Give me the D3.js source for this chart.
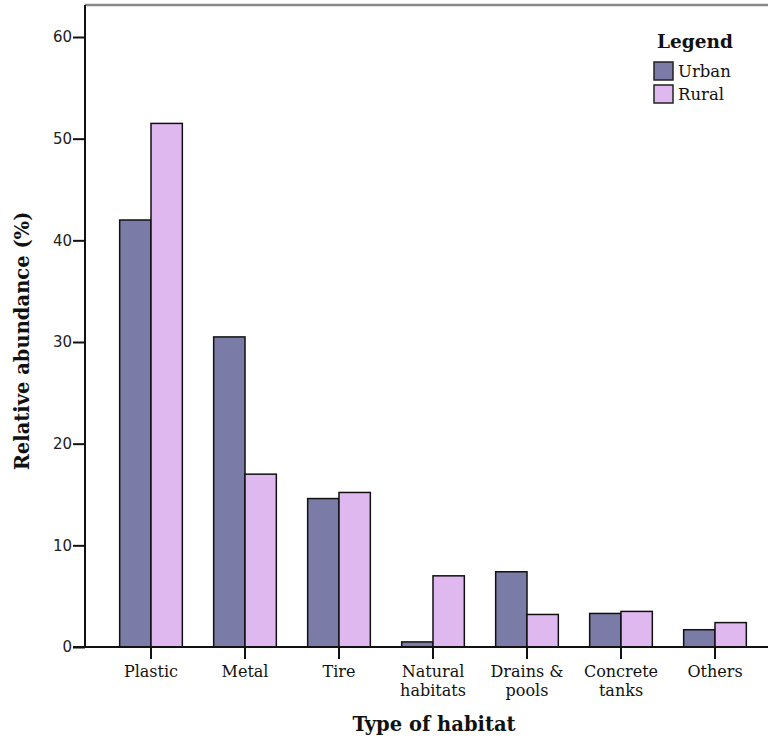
<!DOCTYPE html>
<html><head><meta charset="utf-8">
<script src="https://cdn.jsdelivr.net/npm/d3@7"></script>
<style>body{margin:0;background:#fff}</style>
</head><body>
<svg id="chart" width="768" height="740"></svg>
<script>
const categories = ["Plastic","Metal","Tire","Natural habitats","Drains & pools","Concrete tanks","Others"];
const categoryLines = [["Plastic"],["Metal"],["Tire"],["Natural","habitats"],["Drains &","pools"],["Concrete","tanks"],["Others"]];
const seriesNames = ["Urban","Rural"];
const urban = [42.0, 30.5, 14.6, 0.5, 7.4, 3.3, 1.7];
const rural = [51.5, 17.0, 15.2, 7.0, 3.2, 3.5, 2.4];
const yTicks = [0,10,20,30,40,50,60];
const colors = ["#7b7ba8","#e0b8f0"];

const svg = d3.select("#chart");
const axisX = 85, y0 = 647;
const y = d3.scaleLinear().domain([0,60]).range([y0,37]);
const x = d3.scaleBand().domain(categories).range([104,762]).paddingInner(0).paddingOuter(0);
const xs = d3.scaleBand().domain(seriesNames).range([0,x.bandwidth()]).paddingInner(0).paddingOuter(0.5);
const serif = "'DejaVu Serif', 'Liberation Serif', serif";

// top frame line
svg.append("line").attr("x1",axisX).attr("x2",768).attr("y1",5).attr("y2",5).attr("stroke","#888").attr("stroke-width",2.5);

// bars
const data = categories.map((c,i)=>({c, vals:[urban[i],rural[i]]}));
const g = svg.append("g");
data.forEach(d=>{
  d.vals.forEach((v,j)=>{
    g.append("rect")
      .attr("x", x(d.c)+xs(seriesNames[j]))
      .attr("y", y(v))
      .attr("width", xs.bandwidth())
      .attr("height", y0 - y(v))
      .attr("fill", colors[j])
      .attr("stroke","#111").attr("stroke-width",1.5);
  });
});

// y axis
const yAxis = svg.append("g").attr("transform",`translate(${axisX},0)`)
  .call(d3.axisLeft(y).tickValues(yTicks).tickSize(12).tickSizeOuter(0));
yAxis.select(".domain").remove();
yAxis.selectAll(".tick line").attr("stroke","#111").attr("stroke-width",2);
yAxis.selectAll(".tick text").attr("font-family","Tahoma, 'DejaVu Sans', sans-serif").attr("font-size",15).attr("fill","#222").attr("x",-13);
svg.append("line").attr("x1",axisX).attr("x2",axisX).attr("y1",5).attr("y2",y0+1).attr("stroke","#111").attr("stroke-width",2);

// x axis
const xAxis = svg.append("g").attr("transform",`translate(0,${y0})`)
  .call(d3.axisBottom(x).tickSize(12).tickSizeOuter(0).tickFormat(""));
xAxis.select(".domain").remove();
xAxis.selectAll(".tick line").attr("stroke","#111").attr("stroke-width",2);
svg.append("line").attr("x1",axisX-12).attr("x2",768).attr("y1",y0).attr("y2",y0).attr("stroke","#111").attr("stroke-width",2);

categories.forEach((c,i)=>{
  const t = svg.append("text").attr("x", x(c)+x.bandwidth()/2).attr("y", y0+30)
    .attr("text-anchor","middle").attr("font-family",serif).attr("font-size",16).attr("fill","#111");
  categoryLines[i].forEach((ln,k)=>{
    t.append("tspan").attr("x", x(c)+x.bandwidth()/2).attr("dy", k===0?0:19).text(ln);
  });
});

// axis titles
svg.append("text").attr("x",434).attr("y",731).attr("text-anchor","middle")
  .attr("font-family",serif).attr("font-weight","bold").attr("font-size",19.5).attr("fill","#111").text("Type of habitat");
svg.append("text").attr("transform","translate(29,341) rotate(-90)").attr("text-anchor","middle")
  .attr("font-family",serif).attr("font-weight","bold").attr("font-size",19.5).attr("fill","#111").text("Relative abundance (%)");

// legend
svg.append("text").attr("x",695).attr("y",48).attr("text-anchor","middle")
  .attr("font-family",serif).attr("font-weight","bold").attr("font-size",18.5).attr("fill","#111").text("Legend");
seriesNames.forEach((s,j)=>{
  const ly = 62 + j*23;
  svg.append("rect").attr("x",654).attr("y",ly).attr("width",19).attr("height",18)
    .attr("fill",colors[j]).attr("stroke","#222").attr("stroke-width",1.5);
  svg.append("text").attr("x",678).attr("y",ly+15).attr("font-family",serif).attr("font-size",16.5).attr("fill","#111").text(s);
});
</script>
</body></html>
